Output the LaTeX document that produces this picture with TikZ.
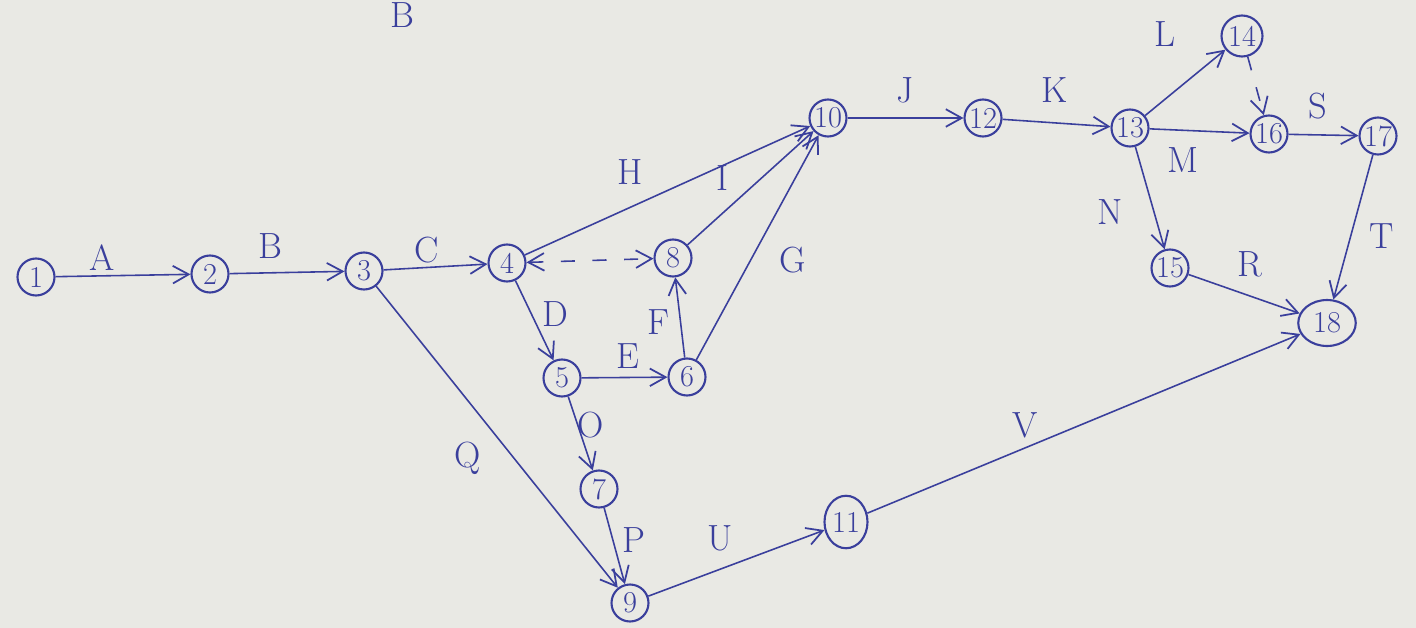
\documentclass[tikz,border=0pt]{standalone}
\usetikzlibrary{arrows.meta,shapes.geometric}
\definecolor{ink}{HTML}{3A3F9C}
\definecolor{paper}{HTML}{E9E9E4}
\begin{document}
\begin{tikzpicture}[x=0.02cm,y=-0.02cm,
  ev/.style={circle,draw=ink,line width=1.2pt,inner sep=0pt,minimum size=0.74cm,text=ink,font=\LARGE},
  evel/.style={ellipse,draw=ink,line width=1.2pt,inner sep=0pt,text=ink,font=\LARGE},
  act/.style={draw=ink,line width=0.9pt,-{Straight Barb[length=9pt,width=10pt,line width=1pt]}},
  dum/.style={act,dashed,dash pattern=on 8pt off 10pt},
  lab/.style={text=ink,font=\huge}]
\fill[paper] (0,0) rectangle (1416,628);
\useasboundingbox (0,0) rectangle (1416,628);
\node[ev] (n1) at (36,277) {1};
\node[ev] (n2) at (210,274) {2};
\node[ev] (n3) at (364,271) {3};
\node[ev] (n4) at (507,263) {4};
\node[ev] (n5) at (562,378) {5};
\node[ev] (n6) at (687,377) {6};
\node[ev] (n7) at (599,489) {7};
\node[ev] (n8) at (673,258) {8};
\node[ev] (n9) at (630,603) {9};
\node[ev] (n10) at (828,118) {10};
\node[evel,minimum width=0.86cm,minimum height=1.05cm] (n11) at (846,522) {11};
\node[ev] (n12) at (983,118) {12};
\node[ev] (n13) at (1130,128) {13};
\node[ev,minimum size=0.82cm] (n14) at (1242,36) {14};
\node[ev] (n15) at (1170,268) {15};
\node[ev] (n16) at (1269,134) {16};
\node[ev] (n17) at (1378,136) {17};
\node[evel,minimum width=1.15cm,minimum height=0.92cm] (n18) at (1327,323) {18};

\draw[act] (n1) -- (n2);
\draw[act] (n2) -- (n3);
\draw[act] (n3) -- (n4);
\draw[act] (n3) -- (n9);
\draw[act] (n4) -- (n10);
\draw[act] (n4) -- (n5);
\draw[dum,{Straight Barb[length=9pt,width=10pt,line width=1pt]}-{Straight Barb[length=9pt,width=10pt,line width=1pt]}] (n4) -- (n8);
\draw[act] (n5) -- (n6);
\draw[act] (n6) -- (n8);
\draw[act] (n6) -- (n10);
\draw[act] (n8) -- (n10);
\draw[act] (n5) -- (n7);
\draw[act] (n7) -- (n9);
\draw[act] (n9) -- (n11);
\draw[act] (n11) -- (n18);
\draw[act] (n10) -- (n12);
\draw[act] (n12) -- (n13);
\draw[act] (n13) -- (n14);
\draw[act] (n13) -- (n16);
\draw[act] (n13) -- (n15);
\draw[dum] (n14) -- (n16);
\draw[act] (n16) -- (n17);
\draw[act] (n15) -- (n18);
\draw[act] (n17) -- (n18);

\node[lab] (lA) at (102,258) {A};
\node[lab] (lB) at (270,246) {B};
\node[lab] (lC) at (427,250) {C};
\node[lab] (lD) at (555,314) {D};
\node[lab] (lE) at (628,356) {E};
\node[lab] (lF) at (658,322) {F};
\node[lab] (lG) at (793,260) {G};
\node[lab] (lH) at (630,172) {H};
\node[lab] (lI) at (722,178) {I};
\node[lab] (lJ) at (905,90) {J};
\node[lab] (lK) at (1055,90) {K};
\node[lab] (lL) at (1165,34) {L};
\node[lab] (lM) at (1183,160) {M};
\node[lab] (lN) at (1110,212) {N};
\node[lab] (lO) at (591,425) {O};
\node[lab] (lP) at (634,540) {P};
\node[lab] (lQ) at (468,458) {Q};
\node[lab] (lR) at (1250,264) {R};
\node[lab] (lS) at (1318,106) {S};
\node[lab] (lT) at (1382,236) {T};
\node[lab] (lU) at (720,538) {U};
\node[lab] (lV) at (1025,425) {V};
\node[lab] (lX) at (402,15) {B};
\end{tikzpicture}
\end{document}
